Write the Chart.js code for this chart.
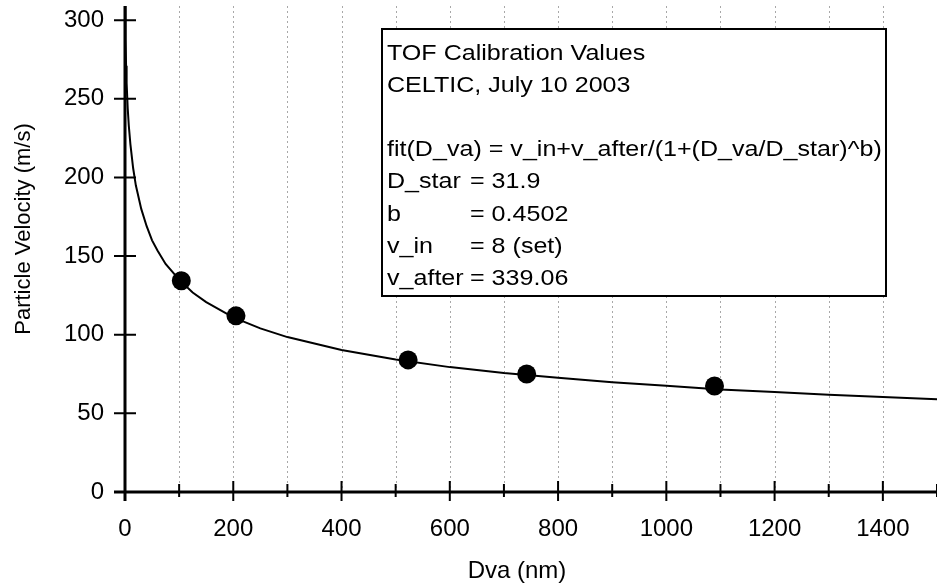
<!DOCTYPE html>
<html>
<head>
<meta charset="utf-8">
<script src="https://cdn.jsdelivr.net/npm/chart.js@4/dist/chart.umd.min.js"></script>
<style>
  html, body { margin: 0; padding: 0; background: #fff; overflow: hidden; }
  #wrap { width: 937px; height: 586px; }
</style>
</head>
<body>
<div id="wrap"><canvas id="tofChart"></canvas></div>
<script>
// measured calibration points (Dva nm, velocity m/s)
var measDva = [104, 205, 523, 742, 1089];
var measVel = [134.3, 112, 84, 75, 67.4];

// fitted curve
var fitDva = [0, 1, 2, 3, 5, 7, 10, 15, 20, 30, 40, 50, 60, 75, 100, 125, 150, 200, 250, 300,
              400, 500, 600, 700, 800, 900, 1000, 1100, 1200, 1300, 1400, 1500];
var fitVel = [347, 288, 271, 260, 244, 233, 221, 206, 195, 180, 169, 160, 153.6, 145, 135, 126.8, 120.7, 111, 104, 98.5,
              90.3, 84.2, 79.4, 75.6, 72.6, 69.8, 67.6, 65.2, 63.6, 61.8, 60.4, 58.9];

// axis ticks
var xTicks = [0, 200, 400, 600, 800, 1000, 1200, 1400];
var xMinorTicks = [100, 300, 500, 700, 900, 1100, 1300, 1500];
var yTicks = [0, 50, 100, 150, 200, 250, 300];

// text box contents
var boxTitle = ['TOF Calibration Values', 'CELTIC, July 10 2003', '', 'fit(D_va) = v_in+v_after/(1+(D_va/D_star)^b)'];
var boxParams = ['D_star', 'b', 'v_in', 'v_after'];
var boxValues = ['= 31.9', '= 0.4502', '= 8 (set)', '= 339.06'];

var FONT = '"Liberation Sans", Arial, Helvetica, sans-serif';

function toPoints(xs, ys) {
    return xs.map(function (v, i) { return {x: v, y: ys[i]}; });
}

var framePlugin = {
    id: 'framePlugin',
    beforeDatasetsDraw: function (chart) {
        var ctx = chart.ctx, xs = chart.scales.x, area = chart.chartArea;
        // dotted vertical grid every 100 nm
        ctx.save();
        ctx.strokeStyle = '#a8a8a8';
        ctx.lineWidth = 1;
        ctx.setLineDash([2, 3]);
        xTicks.concat(xMinorTicks).forEach(function (v) {
            if (v === 0) return;
            var px = Math.round(xs.getPixelForValue(v)) + 0.5;
            ctx.beginPath();
            ctx.moveTo(px, area.top);
            ctx.lineTo(px, area.bottom);
            ctx.stroke();
        });
        ctx.restore();
    },
    afterDatasetsDraw: function (chart) {
        var ctx = chart.ctx, xs = chart.scales.x, ys = chart.scales.y, area = chart.chartArea;
        var x0 = xs.getPixelForValue(0), y0 = ys.getPixelForValue(0);
        ctx.save();
        ctx.strokeStyle = '#000';
        ctx.lineCap = 'butt';
        // axis lines
        ctx.lineWidth = 3;
        ctx.beginPath();
        ctx.moveTo(x0, area.top);
        ctx.lineTo(x0, y0 + 9);
        ctx.moveTo(x0 - 11, y0);
        ctx.lineTo(chart.width, y0);
        ctx.stroke();
        // tick marks crossing the axes
        ctx.lineWidth = 2;
        ctx.beginPath();
        yTicks.forEach(function (v) {
            var py = ys.getPixelForValue(v);
            ctx.moveTo(x0 - 11, py);
            ctx.lineTo(x0 + 11, py);
        });
        xTicks.forEach(function (v) {
            var px = xs.getPixelForValue(v);
            ctx.moveTo(px, y0 - 11);
            ctx.lineTo(px, y0 + 9);
        });
        xMinorTicks.forEach(function (v) {
            var px = xs.getPixelForValue(v);
            ctx.moveTo(px, y0 - 8);
            ctx.lineTo(px, y0 + 5);
        });
        ctx.stroke();
        ctx.restore();
    },
    afterDraw: function (chart) {
        var ctx = chart.ctx;
        ctx.save();
        ctx.fillStyle = '#000';
        // axis titles
        ctx.textAlign = 'center';
        ctx.textBaseline = 'middle';
        ctx.font = '24px ' + FONT;
        ctx.fillText('Dva (nm)', 517, 571);
        ctx.font = '22px ' + FONT;
        ctx.save();
        ctx.translate(24, 229);
        ctx.rotate(-Math.PI / 2);
        ctx.fillText('Particle Velocity (m/s)', 0, 0);
        ctx.restore();

        // text box
        var bx = 382, by = 29, bw = 504, bh = 267;
        ctx.fillStyle = '#fff';
        ctx.fillRect(bx, by, bw, bh);
        ctx.strokeStyle = '#000';
        ctx.lineWidth = 2;
        ctx.strokeRect(bx, by, bw, bh);
        ctx.fillStyle = '#000';
        ctx.font = '22px ' + FONT;
        ctx.textAlign = 'left';
        ctx.textBaseline = 'alphabetic';
        var lineH = 32.2, base = 59.5;
        function wide(txt, x, y) {
            ctx.save();
            ctx.translate(x, y);
            ctx.scale(1.14, 1);
            ctx.fillText(txt, 0, 0);
            ctx.restore();
        }
        boxTitle.forEach(function (t, i) {
            if (t) wide(t, 387, base + i * lineH);
        });
        boxParams.forEach(function (t, i) {
            var yy = base + (boxTitle.length + i) * lineH;
            wide(t, 387, yy);
            wide(boxValues[i], 470, yy);
        });
        ctx.restore();
    }
};

var ctx = document.getElementById('tofChart').getContext('2d');
var chart = new Chart(ctx, {
    type: 'scatter',
    data: {
        datasets: [{
            label: 'fit',
            data: toPoints(fitDva, fitVel),
            showLine: true,
            borderColor: '#000',
            borderWidth: 2,
            pointRadius: 0,
            tension: 0,
            fill: false
        }, {
            label: 'measured',
            data: toPoints(measDva, measVel),
            showLine: false,
            pointRadius: 9.5,
            pointBackgroundColor: '#000',
            pointBorderColor: '#000',
            pointBorderWidth: 0
        }]
    },
    options: {
        responsive: true,
        maintainAspectRatio: false,
        devicePixelRatio: 1,
        animation: false,
        layout: {autoPadding: false, padding: {top: 6, right: -4, left: 0, bottom: 0}},
        plugins: {
            legend: {display: false},
            tooltip: {enabled: false}
        },
        scales: {
            x: {
                type: 'linear',
                min: 0,
                max: 1500,
                afterBuildTicks: function (scale) {
                    scale.ticks = xTicks.map(function (v) { return {value: v}; });
                },
                afterFit: function (scale) {
                    scale.height = 94;
                    scale.paddingLeft = 0;
                    scale.paddingRight = 0;
                },
                grid: {display: false, drawTicks: false},
                border: {display: false},
                ticks: {
                    color: '#000',
                    font: {family: FONT, size: 24},
                    padding: 23,
                    maxRotation: 0,
                    autoSkip: false,
                    callback: function (v) { return String(v); }
                }
            },
            y: {
                type: 'linear',
                min: 0,
                max: 309,
                afterBuildTicks: function (scale) {
                    scale.ticks = yTicks.map(function (v) { return {value: v}; });
                },
                afterFit: function (scale) {
                    scale.width = 125;
                    scale.paddingTop = 0;
                    scale.paddingBottom = 0;
                },
                grid: {display: false, drawTicks: false},
                border: {display: false},
                ticks: {
                    color: '#000',
                    font: {family: FONT, size: 24},
                    padding: 21,
                    callback: function (v) { return String(v); }
                }
            }
        }
    },
    plugins: [framePlugin]
});
</script>
</body>
</html>
